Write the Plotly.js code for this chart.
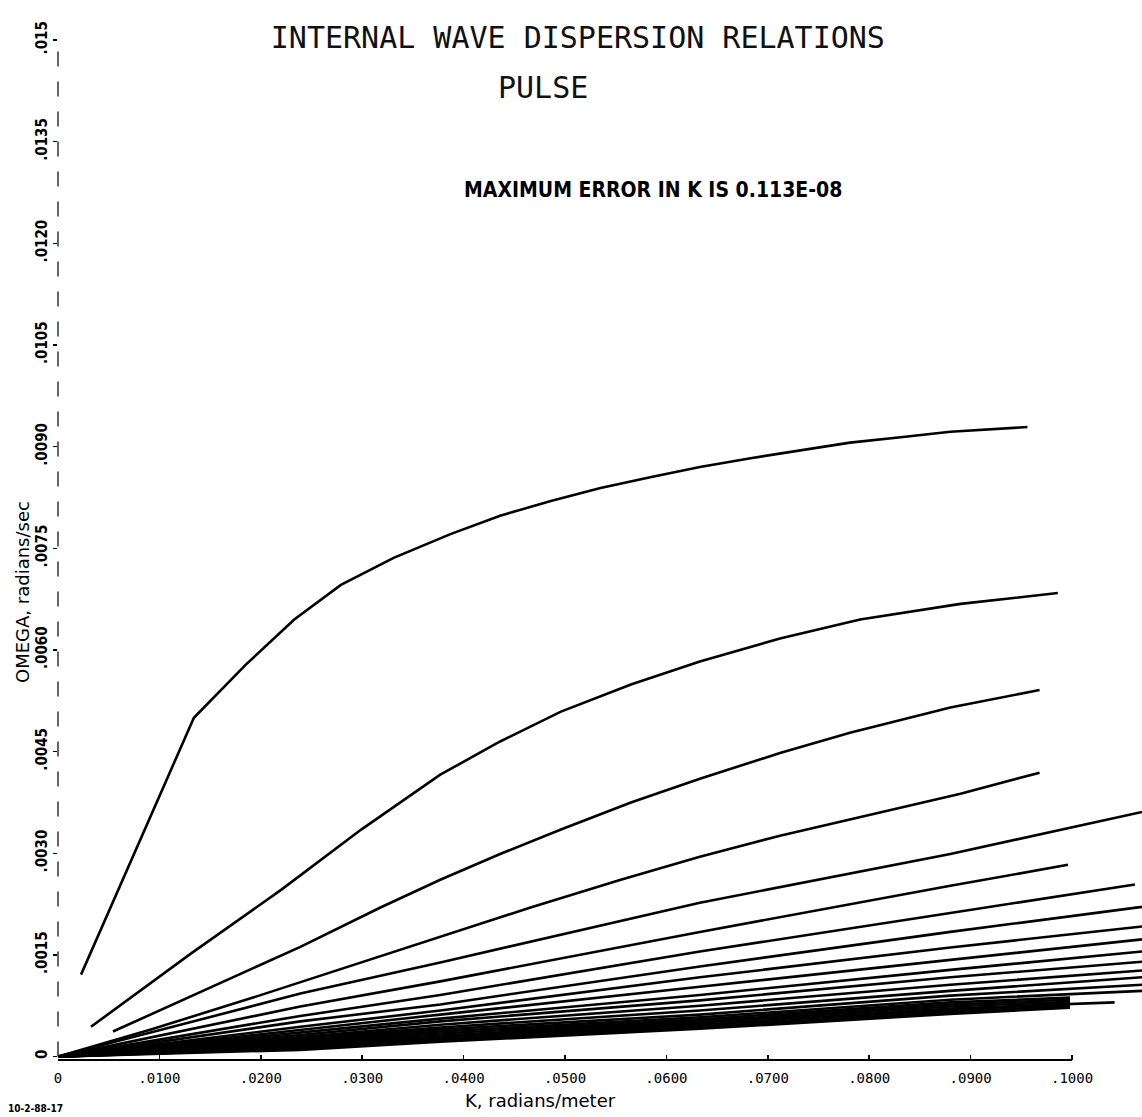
<!DOCTYPE html>
<html><head><meta charset="utf-8">
<script src="https://cdn.plot.ly/plotly-3.0.1.min.js"></script>
<style>html,body{margin:0;padding:0;background:#fff}#chart{width:1142px;height:1117px}</style>
</head><body><div id="chart"></div>
<script>
// Mode 1..4 curves (k in radians/meter, omega in radians/sec)
const K_MODE1 = [0.00227, 0.0134, 0.0185, 0.0233, 0.0279, 0.0331, 0.0387, 0.0436, 0.0486, 0.0535, 0.0584, 0.0633, 0.0683, 0.0732, 0.0781, 0.0831, 0.0880, 0.0956];
const W_MODE1 = [0.00121, 0.00500, 0.00578, 0.00645, 0.00696, 0.00736, 0.00771, 0.00798, 0.00820, 0.00839, 0.00855, 0.00870, 0.00883, 0.00895, 0.00906, 0.00914, 0.00922, 0.00929];
const K_MODE2 = [0.00325, 0.0131, 0.0220, 0.0299, 0.0377, 0.0436, 0.0496, 0.0565, 0.0633, 0.0712, 0.0791, 0.0890, 0.0986];
const W_MODE2 = [0.00044, 0.00152, 0.00246, 0.00335, 0.00416, 0.00465, 0.00509, 0.00549, 0.00583, 0.00617, 0.00645, 0.00668, 0.00684];
const K_MODE3 = [0.00542, 0.0141, 0.0239, 0.0318, 0.0377, 0.0436, 0.0496, 0.0565, 0.0633, 0.0712, 0.0781, 0.0880, 0.0968];
const W_MODE3 = [0.00037, 0.00096, 0.00162, 0.00220, 0.00261, 0.00299, 0.00335, 0.00375, 0.00410, 0.00448, 0.00478, 0.00515, 0.00541];
const K_MODE4 = [0, 0.00916, 0.0190, 0.0289, 0.0377, 0.0466, 0.0555, 0.0633, 0.0712, 0.0801, 0.0890, 0.0968];
const W_MODE4 = [0, 0.00040, 0.00086, 0.00134, 0.00177, 0.00220, 0.00261, 0.00295, 0.00326, 0.00357, 0.00388, 0.00419];

// Higher modes: read at common k points, plus each curve's last k
const K_GRID = [0, 0.0239, 0.0377, 0.0633, 0.0880];
const K_END = [0.1069, 0.0996, 0.1062, 0.1069, 0.1069, 0.1069, 0.1069, 0.1069, 0.1069, 0.1069, 0.1069, 0.1069,
               0.0998, 0.0998, 0.0998, 0.1042, 0.0998, 0.0998, 0.0998, 0.0998];
const W_MODE5  = [0, 0.00093, 0.00139, 0.00227, 0.00299, 0.00361];
const W_MODE6  = [0, 0.00074, 0.00111, 0.00184, 0.00252, 0.00283];
const W_MODE7  = [0, 0.00060, 0.00091, 0.00155, 0.00212, 0.00254];
const W_MODE8  = [0, 0.00052, 0.00077, 0.00133, 0.00184, 0.00221];
const W_MODE9  = [0, 0.00044, 0.00068, 0.00117, 0.00161, 0.00192];
const W_MODE10 = [0, 0.00040, 0.00062, 0.00103, 0.00143, 0.00173];
const W_MODE11 = [0, 0.00035, 0.00056, 0.00091, 0.00128, 0.00155];
const W_MODE12 = [0, 0.00032, 0.00052, 0.00083, 0.00117, 0.00140];
const W_MODE13 = [0, 0.00029, 0.00047, 0.00075, 0.00106, 0.00127];
const W_MODE14 = [0, 0.00027, 0.00043, 0.00068, 0.00097, 0.00117];
const W_MODE15 = [0, 0.00025, 0.00040, 0.00062, 0.00090, 0.00106];
const W_MODE16 = [0, 0.00024, 0.00037, 0.00058, 0.00084, 0.00097];
const W_MODE17 = [0, 0.00021, 0.00034, 0.00055, 0.00080, 0.00087];
const W_MODE18 = [0, 0.00019, 0.00031, 0.00052, 0.00077, 0.00084];
const W_MODE19 = [0, 0.00018, 0.00029, 0.00050, 0.00074, 0.00081];
const W_MODE20 = [0, 0.00016, 0.00028, 0.00047, 0.00071, 0.00080];
const W_MODE21 = [0, 0.00015, 0.00027, 0.00047, 0.00069, 0.00078];
const W_MODE22 = [0, 0.00013, 0.00025, 0.00044, 0.00066, 0.00075];
const W_MODE23 = [0, 0.00012, 0.00024, 0.00043, 0.00065, 0.00074];
const W_MODE24 = [0, 0.00010, 0.00022, 0.00041, 0.00063, 0.00072];

const X_TICKS = [0, 0.01, 0.02, 0.03, 0.04, 0.05, 0.06, 0.07, 0.08, 0.09, 0.1];
const X_TICK_TEXT = ["0", ".0100", ".0200", ".0300", ".0400", ".0500", ".0600", ".0700", ".0800", ".0900", ".1000"];
const Y_TICKS = [0, 0.0015, 0.003, 0.0045, 0.006, 0.0075, 0.009, 0.0105, 0.012, 0.0135, 0.015];
const Y_TICK_TEXT = ["0", ".0015", ".0030", ".0045", ".0060", ".0075", ".0090", ".0105", ".0120", ".0135", ".015"];

const lineStyle = {color: '#000', width: 2.6};
const traces = [];
function addCurve(k, w) {
  traces.push({x: k, y: w, type: 'scatter', mode: 'lines', line: lineStyle, hoverinfo: 'skip', showlegend: false});
}
addCurve(K_MODE1, W_MODE1);
addCurve(K_MODE2, W_MODE2);
addCurve(K_MODE3, W_MODE3);
addCurve(K_MODE4, W_MODE4);
const HIGH = [W_MODE5, W_MODE6, W_MODE7, W_MODE8, W_MODE9, W_MODE10, W_MODE11, W_MODE12, W_MODE13, W_MODE14,
              W_MODE15, W_MODE16, W_MODE17, W_MODE18, W_MODE19, W_MODE20, W_MODE21, W_MODE22, W_MODE23, W_MODE24];
HIGH.forEach((w, i) => addCurve(K_GRID.concat([K_END[i]]), w));

const PL = 58, PT = 38, PW = 1084, PH = 1022;
const px = v => (v - PL) / PW;
const py = v => 1 - (v - PT) / PH;

const layout = {
  width: 1142, height: 1117,
  margin: {l: PL, r: 0, t: PT, b: 57},
  paper_bgcolor: '#fff', plot_bgcolor: '#fff',
  showlegend: false,
  title: {
    text: 'INTERNAL WAVE DISPERSION RELATIONS',
    xref: 'container', x: 0.506, xanchor: 'center',
    yref: 'container', y: 0.966, yanchor: 'middle',
    font: {family: 'DejaVu Sans Mono', size: 30, color: '#111'}
  },
  xaxis: {
    range: [0, 0.1069], showgrid: false, zeroline: false, showline: false,
    tickvals: X_TICKS, ticktext: X_TICK_TEXT,
    ticks: 'inside', ticklen: 5, tickcolor: '#000', tickwidth: 1.5,
    ticklabelstandoff: 8,
    tickfont: {family: 'DejaVu Sans Mono', size: 14, color: '#000'}
  },
  yaxis: {
    range: [-0.00005, 0.01503], showgrid: false, zeroline: false, showline: false,
    tickvals: Y_TICKS, ticktext: Y_TICK_TEXT, tickangle: -90,
    ticks: 'outside', ticklen: 4, tickcolor: '#000', tickwidth: 1.5,
    tickfont: {family: 'DejaVu Sans Condensed, DejaVu Sans', size: 15, color: '#000', weight: 700}
  },
  shapes: [
    {type: 'line', xref: 'x', yref: 'paper', x0: 0, x1: 0.1, y0: 0, y1: 0, line: {color: '#000', width: 1.8}},
    {type: 'line', xref: 'paper', yref: 'y', x0: 0, x1: 0, y0: 0, y1: 0.015, line: {color: '#000', width: 1.2, dash: 'longdash'}}
  ],
  annotations: [
    {text: 'PULSE', xref: 'paper', yref: 'paper', x: px(543), y: py(88),
     xanchor: 'center', yanchor: 'middle', showarrow: false,
     font: {family: 'DejaVu Sans Mono', size: 30, color: '#111'}},
    {text: 'MAXIMUM ERROR IN K IS 0.113E-08', xref: 'paper', yref: 'paper', x: px(653), y: py(190),
     xanchor: 'center', yanchor: 'middle', showarrow: false,
     font: {family: 'DejaVu Sans Condensed, DejaVu Sans', size: 21, color: '#000', weight: 700}},
    {text: 'K, radians/meter', xref: 'paper', yref: 'paper', x: px(540), y: py(1100),
     xanchor: 'center', yanchor: 'middle', showarrow: false,
     font: {family: 'DejaVu Sans', size: 18, color: '#000'}},
    {text: 'OMEGA, radians/sec', xref: 'paper', yref: 'paper', x: px(22), y: py(592), textangle: -90,
     xanchor: 'center', yanchor: 'middle', showarrow: false,
     font: {family: 'DejaVu Sans', size: 18, color: '#000'}},
    {text: '10-2-88-17', xref: 'paper', yref: 'paper', x: px(35), y: py(1108),
     xanchor: 'center', yanchor: 'middle', showarrow: false,
     font: {family: 'DejaVu Sans Condensed, DejaVu Sans', size: 10, color: '#000', weight: 700}}
  ]
};

Plotly.newPlot('chart', traces, layout, {staticPlot: true, displayModeBar: false});
</script>
</body></html>
